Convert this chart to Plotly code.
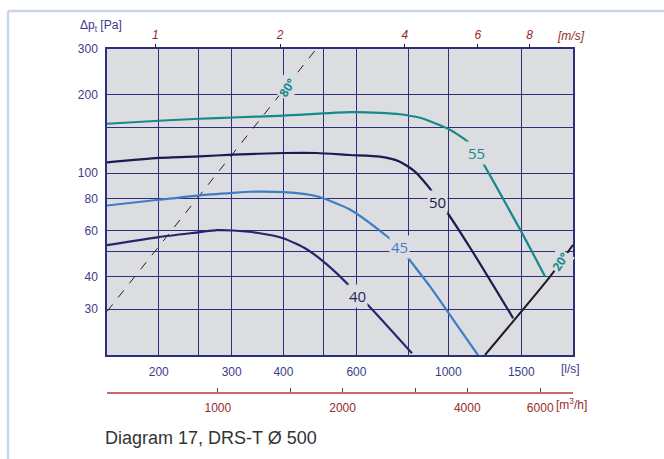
import numpy as np
import plotly.graph_objects as go

# ---------------- data ----------------
# airflow in l/s, total pressure in Pa
q_40 = [150, 200, 251, 276, 302, 345, 401, 456, 509, 572, 605, 636, 817]
p_40 = [52.9, 56.8, 59.3, 60.4, 60.2, 59.0, 56.1, 50.9, 44.6, 37.4, 33.6, 31.4, 20.3]

q_45 = [150, 200, 251, 302, 332, 401, 481, 579, 711, 764, 794, 903, 1067, 1179]
p_45 = [75.1, 79.0, 82.2, 84.0, 84.8, 84.5, 81.5, 72.5, 57.2, 51.8, 47.9, 36.7, 25.1, 20.0]

q_50 = [150, 200, 251, 302, 401, 481, 579, 684, 764, 831, 903, 944, 982, 1128, 1434]
p_50 = [110, 114.4, 116, 117.8, 119.5, 119.5, 117.4, 115.7, 110.7, 101.4, 87.2, 77.8, 72.5, 51.8, 27.7]

q_55 = [150, 200, 251, 302, 401, 579, 684, 764, 854, 903, 1009, 1116, 1172, 1212, 1490, 1712]
p_55 = [154.8, 159, 161.8, 163.6, 166.5, 171.6, 170.6, 168.4, 163.2, 158.3, 146.8, 132, 120, 109.7, 60.8, 40.1]

q_80deg = [150, 480]
p_80deg = [29.4, 300]

q_20deg = [1226, 1762, 2000]
p_20deg = [20, 40.1, 53]

curve_labels = ["40", "45", "50", "55"]
label_q = [605, 764, 944, 1172]
label_p = [33.6, 51.8, 77.8, 120]

angle_labels = ["80°", "20°"]
angle_label_q = [409, 1866]
angle_label_p = [212.7, 45.7]

flow_ticks_ls = [200, 300, 400, 600, 1000, 1500]
flow_grid_minor_ls = [250, 500, 800]
pressure_ticks = [30, 40, 60, 80, 100, 200, 300]
pressure_grid_minor = [50, 150]
velocity_ticks = [1, 2, 4, 6, 8]
airflow_m3h_ticks = [1000, 2000, 4000, 6000]
airflow_m3h_minor = [1500, 3000]
DUCT_DIAMETER_M = 0.5

# ---------------- styling ----------------
W, H = 664, 459
ML, MR, MT, MB = 107, 91, 49, 40
PW, PH = W - ML - MR, H - MT - MB
PLOT_BOTTOM_PX = 355

def px(xp):
    return (xp - ML) / PW

def py(yp):
    return (H - MB - yp) / PH

NAVY_TXT = "#3b3b8c"
RED_TXT = "#962b2b"
GRID = "#2d2f7e"
BG = "#dcdde0"
TEAL = "#17898b"
C40 = "#25256c"
C45 = "#3d7dc8"
C50 = "#1b1b52"
FONT = "Liberation Sans, Arial, sans-serif"
LBL_FONT = "Open Sans, Liberation Sans, sans-serif"

XR = [np.log10(150), np.log10(2000)]
YR = [np.log10(20), np.log10(300)]
area = np.pi * (DUCT_DIAMETER_M / 2) ** 2

fig = go.Figure()

def add_curve(q, p, color, width=2.0, dash=None):
    fig.add_trace(go.Scatter(x=q, y=p, mode="lines",
                             line=dict(color=color, width=width, dash=dash, shape="spline", smoothing=0.6),
                             hoverinfo="skip", showlegend=False))

add_curve(q_80deg, p_80deg, "#222222", 1.0, "dash")
add_curve(q_40, p_40, C40, 2.2)
add_curve(q_45, p_45, C45, 2.2)
add_curve(q_50, p_50, C50, 2.2)
add_curve(q_55, p_55, TEAL, 2.2)
add_curve(q_20deg, p_20deg, "#1e1e1e", 2.0)

# dummy traces to activate the secondary x axes
fig.add_trace(go.Scatter(x=[150, 2000], y=[100, 100], xaxis="x2", mode="markers",
                         marker=dict(opacity=0), hoverinfo="skip", showlegend=False))
fig.add_trace(go.Scatter(x=[150, 2000], y=[100, 100], xaxis="x3", mode="markers",
                         marker=dict(opacity=0), hoverinfo="skip", showlegend=False))

annotations = []
label_colors = [C40, C45, C50, TEAL]
for t, q, p, c in zip(curve_labels, label_q, label_p, label_colors):
    annotations.append(dict(x=np.log10(q), y=np.log10(p), xref="x", yref="y", text=t,
                            showarrow=False, font=dict(family=LBL_FONT, size=15, color=c),
                            bgcolor=BG, borderpad=1))
for t, q, p, ang in zip(angle_labels, angle_label_q, angle_label_p, [-57, -57]):
    annotations.append(dict(x=np.log10(q), y=np.log10(p), xref="x", yref="y", text="<b>" + t + "</b>",
                            showarrow=False, textangle=ang,
                            font=dict(family=LBL_FONT, size=12, color=TEAL),
                            bgcolor=BG, borderpad=1))

annotations += [
    dict(x=px(78), y=py(26), xref="paper", yref="paper", xanchor="left", yanchor="middle",
         text="Δp<sub>t</sub> [Pa]", showarrow=False, font=dict(family=FONT, size=12, color=NAVY_TXT)),
    dict(x=px(555), y=py(36), xref="paper", yref="paper", xanchor="left", yanchor="middle",
         text="<i>[m/s]</i>", showarrow=False, font=dict(family=FONT, size=12, color=RED_TXT)),
    dict(x=px(559), y=py(369), xref="paper", yref="paper", xanchor="left", yanchor="middle",
         text="[l/s]", showarrow=False, font=dict(family=FONT, size=12, color=NAVY_TXT)),
    dict(x=px(554), y=py(404), xref="paper", yref="paper", xanchor="left", yanchor="middle",
         text="[m<sup>3</sup>/h]", showarrow=False, font=dict(family=FONT, size=12, color=RED_TXT)),
    dict(x=px(103), y=py(438), xref="paper", yref="paper", xanchor="left", yanchor="middle",
         text="Diagram 17, DRS-T Ø 500", showarrow=False, font=dict(family=FONT, size=18, color="#333333")),
]

shapes = [
    dict(type="line", xref="paper", yref="paper", x0=px(8), x1=px(664), y0=py(11), y1=py(11),
         line=dict(color="#c9d5ea", width=2.5)),
    dict(type="line", xref="paper", yref="paper", x0=px(8), x1=px(8), y0=py(11), y1=py(459),
         line=dict(color="#c9d5ea", width=2.5)),
]

fig.update_layout(
    width=W, height=H,
    margin=dict(l=ML, r=MR, t=MT, b=MB),
    paper_bgcolor="white", plot_bgcolor=BG,
    showlegend=False,
    annotations=annotations, shapes=shapes,
    xaxis=dict(type="log", range=XR, tickvals=flow_ticks_ls, ticktext=[str(v) for v in flow_ticks_ls],
               showgrid=True, gridcolor=GRID, gridwidth=1.2, zeroline=False,
               minor=dict(tickvals=flow_grid_minor_ls, showgrid=True, gridcolor=GRID, gridwidth=1.2, ticks=""),
               showline=True, linecolor=GRID, linewidth=1.5, mirror=True, ticks="",
               tickfont=dict(family=FONT, size=12, color=NAVY_TXT), ticklabelstandoff=5),
    yaxis=dict(type="log", range=YR, domain=[py(PLOT_BOTTOM_PX), 1], tickvals=pressure_ticks,
               ticktext=[str(v) for v in pressure_ticks], showgrid=True, gridcolor=GRID, gridwidth=1.2,
               minor=dict(tickvals=pressure_grid_minor, showgrid=True, gridcolor=GRID, gridwidth=1.2, ticks=""),
               zeroline=False, showline=True, linecolor=GRID, linewidth=1.5, mirror=True, ticks="",
               tickfont=dict(family=FONT, size=12, color=NAVY_TXT), ticklabelstandoff=5),
    xaxis2=dict(type="log", range=XR, overlaying="x", anchor="y", side="top",
                tickvals=[v * area * 1000 for v in velocity_ticks],
                ticktext=["<i>%d</i>" % v for v in velocity_ticks],
                ticks="outside", ticklen=4, tickcolor="#222222", tickwidth=1,
                showgrid=False, showline=False, zeroline=False,
                tickfont=dict(family=FONT, size=12, color=RED_TXT)),
    xaxis3=dict(type="log", range=XR, overlaying="x", anchor="free", position=py(392.5), side="bottom",
                tickvals=[v / 3.6 for v in airflow_m3h_ticks], ticktext=[str(v) for v in airflow_m3h_ticks],
                ticks="inside", ticklen=4, tickcolor="#8b2a2a", tickwidth=1,
                minor=dict(tickvals=[v / 3.6 for v in airflow_m3h_minor], ticks="inside", ticklen=4,
                           tickcolor="#8b2a2a", tickwidth=1, showgrid=False),
                showgrid=False, showline=True, linecolor="#c46a6a", linewidth=1.5, zeroline=False,
                tickfont=dict(family=FONT, size=12, color=RED_TXT), ticklabelstandoff=4),
)

fig.write_html("out.html")
